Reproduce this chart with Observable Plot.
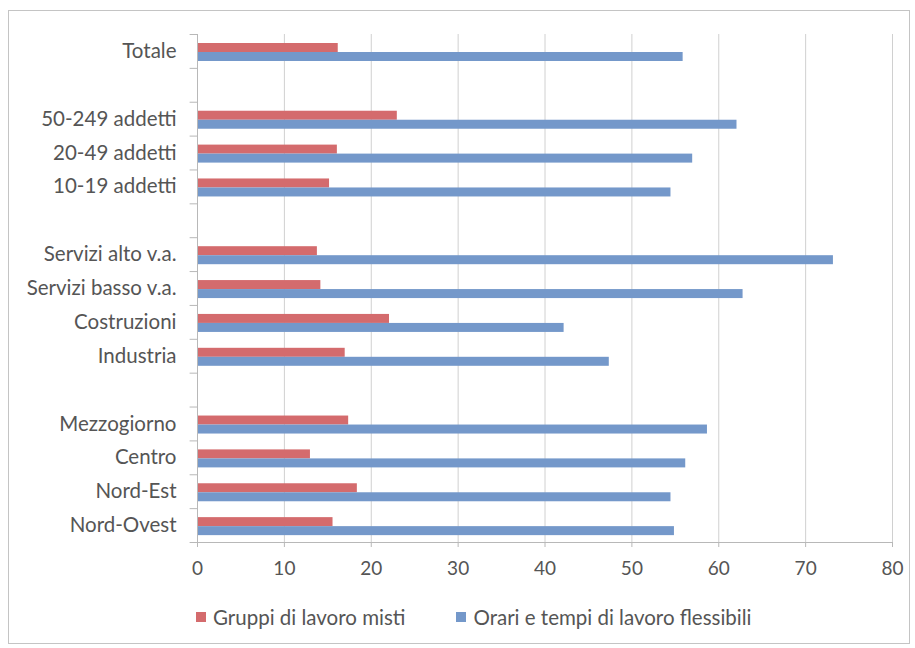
<!DOCTYPE html>
<html>
<head>
<meta charset="utf-8">
<script src="https://cdn.jsdelivr.net/npm/d3@7"></script>
<script src="https://cdn.jsdelivr.net/npm/@observablehq/plot@0.6"></script>
<style>
  html, body { margin: 0; padding: 0; background: #fff; }
  body { position: relative; width: 915px; height: 648px; overflow: hidden; font-family: Lato, "Open Sans", sans-serif; }
  #frame { position: absolute; left: 8px; top: 10px; width: 902px; height: 634px; border: 1px solid #c4c4c4; box-sizing: border-box; }
  #chart { position: absolute; left: 0; top: 0; }
  #legend { position: absolute; top: 605px; left: 196px; display: flex; align-items: center; font-size: 20.5px; color: #555; white-space: nowrap; }
  .sw { display: inline-block; width: 10px; height: 10px; margin-right: 7px; }
  .item { display: flex; align-items: center; margin-right: 51px; }
</style>
</head>
<body>
<div id="frame"></div>
<div id="chart"></div>
<div id="legend"></div>
<script>
// Rows, top to bottom ("_n" = empty spacer rows)
const rows = ["Totale", "_1", "50-249 addetti", "20-49 addetti", "10-19 addetti", "_2",
  "Servizi alto v.a.", "Servizi basso v.a.", "Costruzioni", "Industria", "_3",
  "Mezzogiorno", "Centro", "Nord-Est", "Nord-Ovest"];
const categories = ["Totale", "50-249 addetti", "20-49 addetti", "10-19 addetti",
  "Servizi alto v.a.", "Servizi basso v.a.", "Costruzioni", "Industria",
  "Mezzogiorno", "Centro", "Nord-Est", "Nord-Ovest"];
const gruppiMisti = [16.2, 23.0, 16.1, 15.2, 13.8, 14.2, 22.1, 17.0, 17.4, 13.0, 18.4, 15.6];
const orariFlessibili = [55.9, 62.1, 57.0, 54.5, 73.2, 62.8, 42.2, 47.4, 58.7, 56.2, 54.5, 54.9];
const seriesNames = ["Gruppi di lavoro misti", "Orari e tempi di lavoro flessibili"];
const seriesColors = ["#d46b6d", "#7498ca"];
const xTicks = [0, 10, 20, 30, 40, 50, 60, 70, 80];

const red = categories.map((c, i) => ({cat: c, value: gruppiMisti[i]}));
const blue = categories.map((c, i) => ({cat: c, value: orariFlessibili[i]}));

const W = 915, H = 600, mT = 34, mB = 58, mL = 197, mR = 23;
const step = (H - mT - mB) / rows.length;

const chart = Plot.plot({
  width: W, height: H,
  marginTop: mT, marginBottom: mB, marginLeft: mL, marginRight: mR,
  style: {fontFamily: "Lato, 'Open Sans', sans-serif", color: "#555", background: "transparent"},
  x: {domain: [0, 80], ticks: xTicks, grid: false, label: null, round: false},
  y: {domain: rows, padding: 0, round: false, label: null},
  marks: [
    Plot.ruleX(xTicks.slice(1), {stroke: "#d0d0d0", strokeWidth: 1}),
    Plot.barX(red, {y: "cat", x: "value", fill: seriesColors[0], insetTop: 9, insetBottom: step - 18}),
    Plot.barX(blue, {y: "cat", x: "value", fill: seriesColors[1], insetTop: 18, insetBottom: step - 27}),
    // y axis line and category boundary ticks
    Plot.ruleX([0], {stroke: "#b8b8b8"}),
    Plot.ruleY(rows, {y: d => d, x1: -0.85, x2: 0, dy: -step / 2, stroke: "#b8b8b8", clip: false}),
    Plot.ruleY([rows[rows.length - 1]], {y: d => d, x1: -0.85, x2: 80, dy: step / 2, stroke: "#b8b8b8", clip: false}),
    Plot.axisX({ticks: xTicks, tickSize: 5, tickPadding: 14, stroke: "#b8b8b8", fontSize: 19, fill: "#555", label: null}),
    Plot.axisY({tickSize: 0, tickPadding: 21, fontSize: 20.5, fill: "#555",
      tickFormat: d => d.startsWith("_") ? "" : d, label: null})
  ]
});
document.getElementById("chart").appendChild(chart);

const legend = document.getElementById("legend");
seriesNames.forEach((name, i) => {
  const item = document.createElement("span");
  item.className = "item";
  const sw = document.createElement("span");
  sw.className = "sw";
  sw.style.background = seriesColors[i];
  item.appendChild(sw);
  item.appendChild(document.createTextNode(name));
  legend.appendChild(item);
});
</script>
</body>
</html>
